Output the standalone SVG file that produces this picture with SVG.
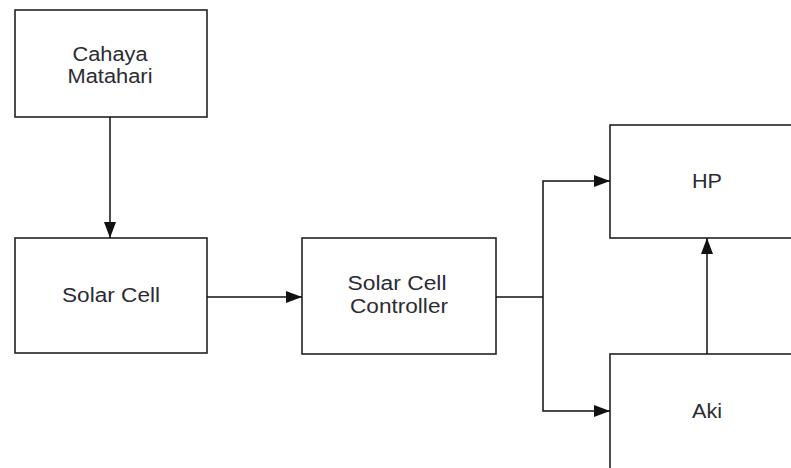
<svg xmlns="http://www.w3.org/2000/svg" width="791" height="468" viewBox="0 0 791 468">
<defs>
<marker id="ah" markerWidth="16" markerHeight="12" refX="16" refY="6" orient="auto" markerUnits="userSpaceOnUse">
<path d="M0,0 L16,6 L0,12 Z" fill="#111"/>
</marker>
<style>
.box{fill:#fff;stroke:#222;stroke-width:1.6}
.lbl{font-family:"Liberation Sans",Arial,sans-serif;font-size:20px;fill:#2b2b33;text-anchor:middle}
.ln{fill:none;stroke:#111;stroke-width:1.5}
</style>
</defs>
<rect width="791" height="468" fill="#fff"/>
<g id="cahaya">
<rect class="box" x="15" y="10" width="192" height="107"/>
<text class="lbl" x="110" y="61" textLength="75" lengthAdjust="spacingAndGlyphs">Cahaya</text>
<text class="lbl" x="110" y="83" textLength="85" lengthAdjust="spacingAndGlyphs">Matahari</text>
</g>
<g id="solarcell">
<rect class="box" x="15" y="238" width="192" height="115"/>
<text class="lbl" x="111" y="302" textLength="98" lengthAdjust="spacingAndGlyphs">Solar Cell</text>
</g>
<g id="controller">
<rect class="box" x="302" y="238" width="194" height="116"/>
<text class="lbl" x="397" y="290" textLength="99" lengthAdjust="spacingAndGlyphs">Solar Cell</text>
<text class="lbl" x="399" y="313" textLength="98" lengthAdjust="spacingAndGlyphs">Controller</text>
</g>
<g id="hp">
<rect class="box" x="610" y="125" width="200" height="113"/>
<text class="lbl" x="707" y="188" textLength="30" lengthAdjust="spacingAndGlyphs">HP</text>
</g>
<g id="aki">
<rect class="box" x="610" y="354" width="200" height="130"/>
<text class="lbl" x="707" y="418" textLength="30" lengthAdjust="spacingAndGlyphs">Aki</text>
</g>
<g id="connectors">
<line class="ln" x1="110" y1="117" x2="110" y2="238" marker-end="url(#ah)"/>
<line class="ln" x1="207" y1="297" x2="302" y2="297" marker-end="url(#ah)"/>
<polyline class="ln" points="496,297 543,297"/>
<polyline class="ln" points="543,297 543,181 610,181" marker-end="url(#ah)"/>
<polyline class="ln" points="543,297 543,411 610,411" marker-end="url(#ah)"/>
<line class="ln" x1="707" y1="354" x2="707" y2="238" marker-end="url(#ah)"/>
</g>
</svg>
